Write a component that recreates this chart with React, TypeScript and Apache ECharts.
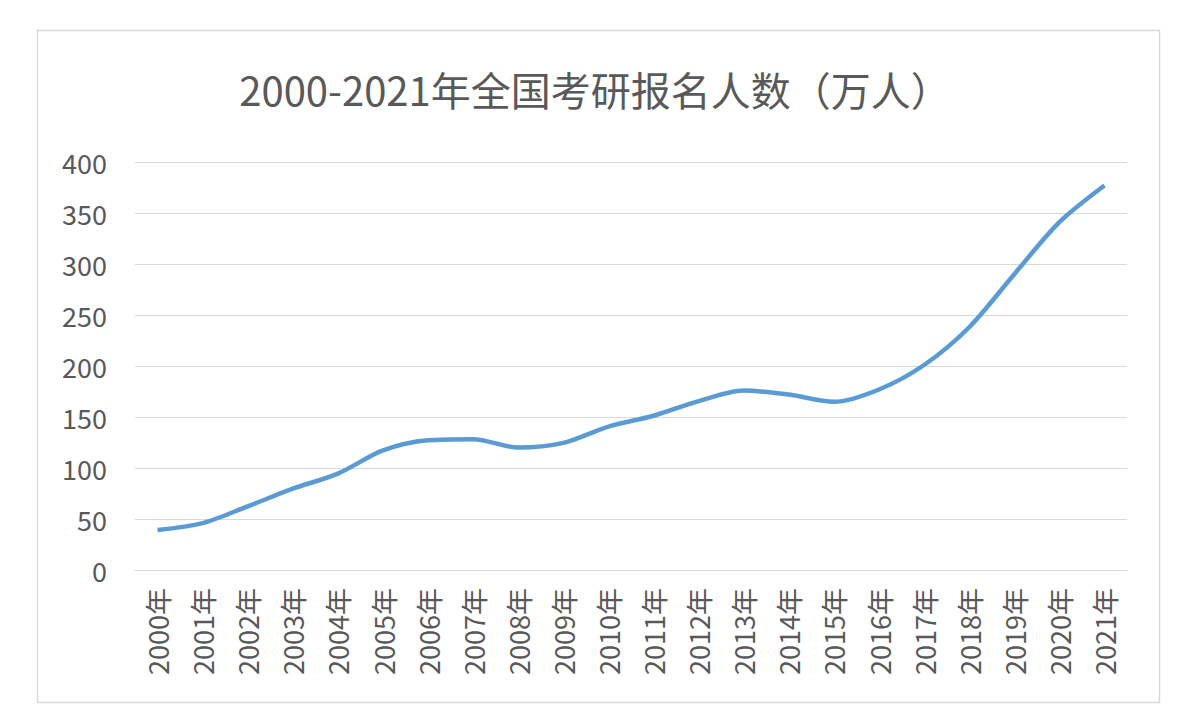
import React, { useEffect, useRef } from "react";
import * as echarts from "echarts";

const titleText = "2000-2021年全国考研报名人数（万人）";
const categories = [
  "2000年", "2001年", "2002年", "2003年", "2004年", "2005年", "2006年", "2007年",
  "2008年", "2009年", "2010年", "2011年", "2012年", "2013年", "2014年", "2015年",
  "2016年", "2017年", "2018年", "2019年", "2020年", "2021年",
];
const values = [
  39.2, 46, 62.4, 79.7, 94.5, 117.2, 127.1, 128.2, 120, 124.6, 140.6, 151.2,
  165.6, 176, 172, 164.9, 177, 201, 238, 290, 341, 377,
];
const yMin = 0;
const yMax = 400;
const yInterval = 50;

export default function App() {
  const ref = useRef<HTMLDivElement>(null);
  useEffect(() => {
    if (!ref.current) return;
    const chart = echarts.init(ref.current, null, { renderer: "svg" });
    const font = "'Noto Sans CJK SC', 'Noto Sans', sans-serif";
    chart.setOption({
      animation: false,
      backgroundColor: "#ffffff",
      textStyle: { fontFamily: font },
      title: {
        text: titleText,
        left: 590,
        textAlign: "center",
        top: 64,
        textStyle: { fontSize: 40, color: "#595959", fontWeight: "normal", fontFamily: font },
      },
      graphic: [
        {
          type: "rect",
          shape: { x: 37.5, y: 30.5, width: 1122, height: 672 },
          style: { fill: "none", stroke: "#d9d9d9", lineWidth: 1.5 },
          silent: true,
          z: -1,
        },
      ],
      grid: { left: 135, right: 67, top: 162, bottom: 158 },
      xAxis: {
        type: "category",
        data: categories,
        boundaryGap: true,
        axisLine: { show: true, lineStyle: { color: "#d9d9d9", width: 1 } },
        axisTick: { show: false },
        axisLabel: {
          rotate: 90,
          color: "#595959",
          fontSize: 27,
          margin: 18,
          interval: 0,
          fontFamily: font,
        },
      },
      yAxis: {
        type: "value",
        min: yMin,
        max: yMax,
        interval: yInterval,
        axisLine: { show: false },
        axisTick: { show: false },
        splitLine: { lineStyle: { color: "#d9d9d9", width: 1 } },
        axisLabel: { color: "#595959", fontSize: 27, margin: 28, fontFamily: font },
      },
      series: [
        {
          type: "line",
          data: values,
          smooth: 0.3,
          showSymbol: false,
          lineStyle: { color: "#5b9bd5", width: 4.5 },
          itemStyle: { color: "#5b9bd5" },
        },
      ],
    });
    return () => chart.dispose();
  }, []);
  return (
    <div
      ref={ref}
      style={{ position: "absolute", left: 0, top: 0, width: 1194, height: 728 }}
    />
  );
}
